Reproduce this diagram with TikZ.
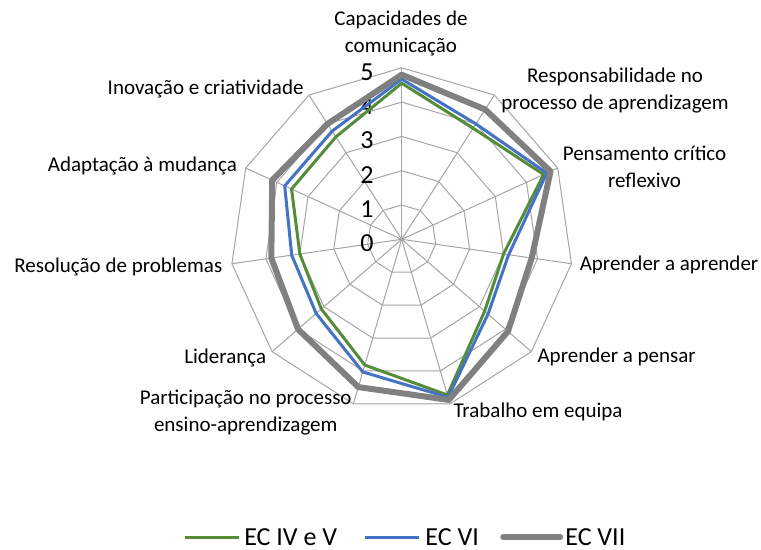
\documentclass[tikz,border=0pt]{standalone}
\usepackage{fontspec}
\setmainfont{Carlito}
\definecolor{ecgreen}{RGB}{84,140,58}
\definecolor{ecblue}{RGB}{68,114,196}
\definecolor{ecgray}{RGB}{128,128,128}
\definecolor{gridgray}{RGB}{165,165,165}
\begin{document}
\begin{tikzpicture}[x=17.15pt, y=17.15pt,
  grid/.style={gridgray, line width=0.5pt},
  ecA/.style={ecgreen, line width=1.5pt, line join=round},
  ecB/.style={ecblue, line width=1.5pt, line join=round},
  ecC/.style={ecgray, line width=3pt, line join=round, line cap=round},
  lab/.style={inner sep=0pt, align=center, font=\fontsize{10.5}{13.5}\selectfont},
  tick/.style={inner sep=0pt, anchor=east, font=\fontsize{13}{15}\selectfont},
  leg/.style={inner sep=0pt, anchor=west, font=\fontsize{13}{15}\selectfont}]
\useasboundingbox (-11.711,-9.029) rectangle (10.475,6.977);
% web
\foreach \r in {1,...,5}
  \draw[grid] (90:\r) \foreach \i in {1,...,10} { -- ({90-\i*360/11}:\r) } -- cycle;
\foreach \i in {0,...,10}
  \draw[grid] (0,0) -- ({90-\i*360/11}:5);
\foreach \r in {0,...,5}
  \node[tick] (t\r) at (-0.808,\r-0.117) {\r};
% series
\foreach \v [count=\i from 0] in {4.55,3.85,4.55,3.0,3.2,4.73,3.82,3.1,3.0,3.53,3.55}
  \coordinate (a\i) at ({90-\i*360/11}:\v);
\foreach \v [count=\i from 0] in {4.67,4.0,4.65,3.15,3.33,4.8,4.03,3.3,3.24,3.75,3.75}
  \coordinate (b\i) at ({90-\i*360/11}:\v);
\foreach \v [count=\i from 0] in {4.8,4.5,4.77,3.83,4.1,4.88,4.49,4.0,3.84,4.15,4.0}
  \coordinate (c\i) at ({90-\i*360/11}:\v);
\draw[ecA] (a0) \foreach \i in {1,...,10} { -- (a\i) } -- cycle;
\draw[ecB] (b0) \foreach \i in {1,...,10} { -- (b\i) } -- cycle;
\draw[ecC] (c0) \foreach \i in {1,...,10} { -- (c\i) } -- cycle;
% axis names
\node[lab] (capac) at (-0.02,5.99) {Capacidades de\\comunicação};
\node[lab] (respons) at (6.22,4.35) {Responsabilidade no\\processo de aprendizagem};
\node[lab] (pensam) at (7.08,2.11) {Pensamento crítico\\reflexivo};
\node[lab, anchor=west] (aprapr) at (5.18,-0.75) {Aprender a aprender};
\node[lab, anchor=west] (aprpen) at (3.95,-3.42) {Aprender a pensar};
\node[lab, anchor=west] (trab) at (1.50,-5.03) {Trabalho em equipa};
\node[lab, anchor=east] (partic) at (-1.45,-5.06) {Participação no processo\\ensino-aprendizagem};
\node[lab, anchor=east] (lider) at (-3.94,-3.45) {Liderança};
\node[lab, anchor=east] (resol) at (-5.22,-0.80) {Resolução de problemas};
\node[lab, anchor=east] (adapt) at (-4.79,2.14) {Adaptação à mudança};
\node[lab, anchor=east] (inov) at (-2.85,4.37) {Inovação e criatividade};
% legend
\coordinate (lgA1) at (-6.32,-8.68);
\coordinate (lgA2) at (-4.73,-8.68);
\coordinate (lgB1) at (-1.07,-8.68);
\coordinate (lgB2) at (0.51,-8.68);
\coordinate (lgC1) at (2.96,-8.68);
\coordinate (lgC2) at (4.62,-8.68);
\draw[ecA] (lgA1) -- (lgA2);
\draw[ecB] (lgB1) -- (lgB2);
\draw[ecC] (lgC1) -- (lgC2);
\node[leg] (legA) at (-4.60,-8.68) {EC IV e V};
\node[leg] (legB) at (0.68,-8.68) {EC VI};
\node[leg] (legC) at (4.76,-8.68) {EC VII};
\end{tikzpicture}
\end{document}
